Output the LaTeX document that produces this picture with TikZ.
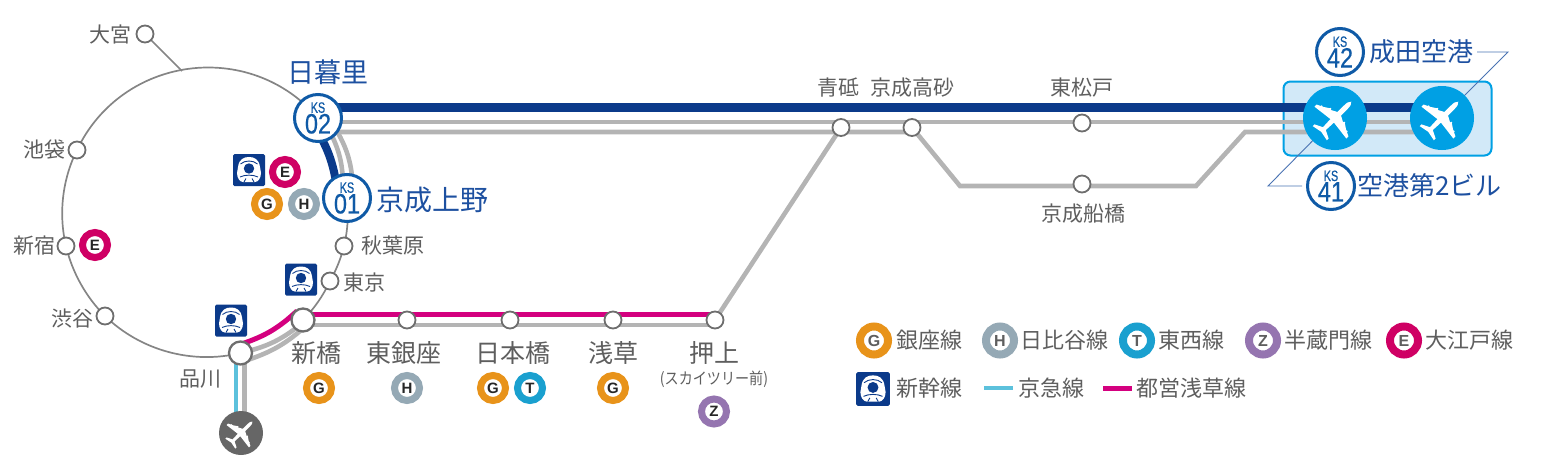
\documentclass[tikz,border=0pt]{standalone}
\usepackage{fontspec}
\usetikzlibrary{backgrounds}
\newfontfamily\jp{Noto Sans CJK JP}
\newfontfamily\jpnarrow[FakeStretch=0.88]{Noto Sans CJK JP}
\newfontfamily\ksfont[FakeStretch=0.72,FakeBold=0.5]{Liberation Sans}
\newfontfamily\ksdigit[FakeStretch=0.84,FakeBold=0.5]{Liberation Sans}
\newfontfamily\badgefont{Liberation Sans}
\newcommand{\fs}[1]{\fontsize{#1}{#1}\selectfont}
\newcommand{\ksnum}[1]{\ksfont\fs{15}KS\\\ksdigit\fontsize{28}{23.5}\selectfont #1}
\definecolor{navyline}{HTML}{0B3A8A}
\definecolor{ksblue}{HTML}{0F5AA6}
\definecolor{nameblue}{HTML}{1D50A0}
\definecolor{grayline}{HTML}{B4B4B4}
\definecolor{ringgray}{HTML}{858585}
\definecolor{stgray}{HTML}{6E6E6E}
\definecolor{textgray}{HTML}{5E5E5E}
\definecolor{pinkline}{HTML}{D4007F}
\definecolor{cyanline}{HTML}{5CC1DC}
\definecolor{skyblue}{HTML}{00A0E4}
\definecolor{skypale}{HTML}{D2E9F8}
\definecolor{planegray}{HTML}{666666}
\definecolor{ginza}{HTML}{E8931A}
\definecolor{hibiya}{HTML}{95A9B5}
\definecolor{tozai}{HTML}{1AA0CF}
\definecolor{hanzo}{HTML}{9575B0}
\definecolor{oedo}{HTML}{CF0064}
\tikzset{
  station/.style={shape=circle,draw=stgray,fill=white,line width=1.8pt,minimum size=17pt,inner sep=0pt},
  hubstation/.style={station,line width=2.3pt,minimum size=23pt},
  stname/.style={font=\jp\fs{21},text=textgray,inner sep=0pt},
  midname/.style={font=\jp\fs{25},text=textgray,inner sep=0pt},
  bigname/.style={font=\jp\fs{#1},text=nameblue,inner sep=0pt},
  legname/.style={font=\jp\fs{22},text=textgray,inner sep=0pt,anchor=west},
  ksmark/.style={shape=circle,draw=ksblue,fill=white,line width=3pt,minimum size=47pt,inner sep=0pt,text=ksblue,align=center},
  badge/.style={shape=circle,draw=#1,fill=white,line width=7pt,minimum size=25pt,inner sep=0pt,font=\badgefont\bfseries\fs{15},text=black!85},
  legbadge/.style={shape=circle,draw=#1,fill=white,line width=8pt,minimum size=28pt,inner sep=0pt,font=\badgefont\bfseries\fs{16},text=textgray},
  airport/.style={shape=circle,fill=skyblue,minimum size=64pt,inner sep=0pt},
  ringline/.style={draw=ringgray,line width=1.7pt},
  mainline/.style={draw=navyline,line width=9pt},
  sideline/.style={draw=grayline,line width=4.6pt,line join=miter},
  pink/.style={draw=pinkline,line width=5pt},
  cyan/.style={draw=cyanline,line width=4.6pt},
  leader/.style={draw=nameblue!80,line width=0.9pt},
  plane/.pic={
    \fill[white] (23,0) .. controls (22,-1.8) and (19,-2.6) .. (15,-2.5) -- (6,-2.5) -- (2.5,-9) -- (4,-9) -- (4,-10.5) -- (3.3,-10.5) -- (-1,-17) -- (-0.5,-17) -- (-0.5,-18.5) -- (-1.5,-18.5) -- (-3.5,-22.5) -- (-6.5,-22.5) -- (-4,-2.5) -- (-15,-2) -- (-19,-10) -- (-21.5,-10) -- (-19.5,0) -- (-21.5,10) -- (-19,10) -- (-15,2) -- (-4,2.5) -- (-6.5,22.5) -- (-3.5,22.5) -- (-1.5,18.5) -- (-0.5,18.5) -- (-0.5,17) -- (-1,17) -- (3.3,10.5) -- (4,10.5) -- (4,9) -- (2.5,9) -- (6,2.5) -- (15,2.5) .. controls (19,2.6) and (22,1.8) .. (23,0) -- cycle;
  },
  trainmark/.pic={
    \fill[navyline,rounded corners=1.5pt] (-16,-16) rectangle (16,16);
    \fill[white] (-11,-3) .. controls (-10,-11) and (-5,-13) .. (0,-13) .. controls (5,-13) and (10,-11) .. (11,-3) -- (12,3) .. controls (12,8) and (9,12) .. (6,12) -- (-6,12) .. controls (-9,12) and (-12,8) .. (-12,3) -- cycle;
    \draw[navyline,line width=0.9pt] (-8.5,-6) .. controls (-4,-10) and (4,-10) .. (8.5,-6);
    \draw[navyline,line width=0.9pt] (-9,7) .. controls (-4,4.5) and (4,4.5) .. (9,7);
    \draw[navyline,line width=0.9pt] (-5,12) -- (-3,8.5) (5,12) -- (3,8.5);
    \fill[navyline] (0,-1.5) circle (5.2);
  },
}
\begin{document}
\begin{tikzpicture}[x=1pt,y=-1pt]
\useasboundingbox (0,0) rectangle (1542,472);

\node[station,label={[stname,label distance=4pt]left:大宮}] (omiya) at (145,34) {};
\node[station,label={[stname,label distance=2pt]left:池袋}] (ikebukuro) at (77,150) {};
\node[station,label={[stname,label distance=1pt]left:新宿}] (shinjuku) at (66,246) {};
\node[station,label={[stname,label distance=2pt,yshift=-3pt]left:渋谷}] (shibuya) at (105,316) {};
\node[station,label={[stname,label distance=8pt]right:秋葉原}] (akihabara) at (344,246) {};
\node[station,label={[stname,label distance=4pt,yshift=-2pt]right:東京}] (tokyo) at (330,281) {};
\coordinate (omiyajct) at (182,71);

\node[hubstation] (shinagawa) at (240.5,353) {};
\node[hubstation] (shimbashi) at (303,320) {};
\node[station] (higashiginza) at (407,320) {};
\node[station] (nihombashi) at (510,320) {};
\node[station] (asakusa) at (613,320) {};
\node[station] (oshiage) at (715,320) {};
\node[station] (aoto) at (841,127.5) {};
\node[station] (takasago) at (912,127.5) {};
\node[station] (matsudo) at (1082,123) {};
\node[station] (funabashi) at (1082,184) {};
\node[stname] (shinagawaname) at (200.5,379) {品川};
\node[midname] (shimbashiname) at (316,353) {新橋};
\node[midname] (higashiginzaname) at (404,353) {東銀座};
\node[midname] (nihombashiname) at (513,353) {日本橋};
\node[midname] (asakusaname) at (613,353) {浅草};
\node[midname] (oshiagename) at (714,353) {押上};
\node[font=\jpnarrow\fs{16},text=textgray,inner sep=0pt] (skytreename) at (714,379) {(スカイツリー前)};
\node[stname] (aotoname) at (838,87.5) {青砥};
\node[stname] (takasagoname) at (912,87.5) {京成高砂};
\node[stname] (matsudoname) at (1082,87.5) {東松戸};
\node[stname] (funabashiname) at (1083,214) {京成船橋};

\node[ksmark] (nippori) at (318,118) {\ksnum{02}};
\node[ksmark] (ueno) at (347,198) {\ksnum{01}};
\node[ksmark] (ksnarita) at (1340,52) {\ksnum{42}};
\node[ksmark] (ksbiru) at (1331,186) {\ksnum{41}};
\node[bigname=27] (nipporiname) at (328,72) {日暮里};
\node[bigname=28,anchor=west] (uenoname) at (376,200) {京成上野};
\node[bigname=26,anchor=west] (naritaname) at (1369,52) {成田空港};
\node[bigname=26,anchor=west] (biruname) at (1357,186) {空港第2ビル};

\node[airport] (terminal2) at (1335,118) {};
\node[airport] (terminal1) at (1442,118) {};
\node[shape=circle,fill=planegray,minimum size=44pt,inner sep=0pt] (haneda) at (241,433) {};
\pic[rotate=45] at (terminal2) {plane};
\pic[rotate=45] at (terminal1) {plane};
\pic[rotate=45,scale=0.7] at (haneda) {plane};

\coordinate (lowbendA) at (960,186);
\coordinate (lowbendB) at (1196,186);
\coordinate (lowbendC) at (1245,132);
\coordinate (naritastart) at (1477,52);
\coordinate (naritacorner) at (1508,52);
\coordinate (birustart) at (1302,186);
\coordinate (birucorner) at (1268,186);

\begin{scope}[on background layer]
  \node[shape=rectangle,rounded corners=7pt,draw=skyblue,fill=skypale,line width=2pt,minimum width=208pt,minimum height=74pt,inner sep=0pt] (airportbox) at (1387.5,118.5) {};
  \path[ringline] (nippori.center) to[bend right=57,looseness=1.1] (ikebukuro.center);
  \path[ringline] (ikebukuro.center) to[bend right=20,looseness=0.87] (shinjuku.center);
  \path[ringline] (shinjuku.center) to[bend right=16,looseness=0.86] (shibuya.center);
  \path[ringline] (shibuya.center) to[bend right=29,looseness=0.9] (shinagawa.center);
  \path[ringline] (ueno.center) to[bend left=10,looseness=0.85] (akihabara.center);
  \path[ringline] (akihabara.center) to[bend left=8,looseness=0.85] (tokyo.center);
  \path[ringline] (tokyo.center) to[bend left=10,looseness=0.85] (shimbashi.center);
  \path[ringline] (omiya.center) -- (omiyajct);

  \path[mainline] ([shift={(0,-11)}]nippori.center) -- ([shift={(0,-11)}]terminal1.center);
  \path[sideline] ([shift={(0,4)}]nippori.center) -- ([shift={(0,4)}]terminal1.center);
  \path[sideline] ([shift={(0,14)}]nippori.center) -- ([shift={(0,4.5)}]takasago.center) -- (takasago.center) -- (lowbendA) -- (lowbendB) -- (lowbendC) -- ([shift={(0,14)}]terminal1.center);
  \path[mainline,line width=8pt] ([shift={(-5,6)}]nippori.center) to[bend left=12] ([shift={(-10,-10)}]ueno.center);
  \path[sideline] ([shift={(10,10)}]nippori.center) to[bend left=14] ([shift={(-4,-10)}]ueno.center);
  \path[sideline] ([shift={(16,8)}]nippori.center) to[bend left=14] ([shift={(6,-10)}]ueno.center);

  \path[pink] ([shift={(1,-9)}]shinagawa.center) to[bend right=12] ([shift={(-6,-9)}]shimbashi.center);
  \path[sideline] ([shift={(4,-1)}]shinagawa.center) to[bend right=12] ([shift={(-3,5)}]shimbashi.center);
  \path[sideline] ([shift={(4,8)}]shinagawa.center) to[bend right=12] ([shift={(4,5)}]shimbashi.center);
  \path[pink] ([shift={(0,-6)}]shimbashi.center) -- ([shift={(0,-6)}]oshiage.center);
  \path[sideline] ([shift={(0,5)}]shimbashi.center) -- ([shift={(0,5)}]oshiage.center);
  \path[sideline] (oshiage.center) -- (aoto.center);
  \path[cyan] ([shift={(-4.5,0)}]shinagawa.center) -- ([shift={(-5,0)}]haneda.center);
  \path[sideline] ([shift={(4,0)}]shinagawa.center) -- ([shift={(3.5,0)}]haneda.center);

  \path[leader] (naritastart) -- (naritacorner) -- (terminal1.center);
  \path[leader] (birustart) -- (birucorner) -- (terminal2.center);
\end{scope}

\pic at (249,170) {trainmark};
\pic at (301,279.5) {trainmark};
\pic at (231,320.5) {trainmark};
\node[badge=oedo] (uenoE) at (285,172) {E};
\node[badge=ginza] (uenoG) at (267,204) {G};
\node[badge=hibiya] (uenoH) at (304,204) {H};
\node[badge=oedo] (shinjukuE) at (95,245) {E};
\node[badge=ginza] (shimbashiG) at (319,388) {G};
\node[badge=hibiya] (higashiginzaH) at (407,388) {H};
\node[badge=ginza] (nihombashiG) at (493,388) {G};
\node[badge=tozai] (nihombashiT) at (530,388) {T};
\node[badge=ginza] (asakusaG) at (613,388) {G};
\node[badge=hanzo] (oshiageZ) at (714,411.5) {Z};

\node[legbadge=ginza] (legG) at (874,340.5) {G};
\node[legname] (legGname) at (896,340) {銀座線};
\node[legbadge=hibiya] (legH) at (1000,340.5) {H};
\node[legname] (legHname) at (1020,340) {日比谷線};
\node[legbadge=tozai] (legT) at (1137,340.5) {T};
\node[legname] (legTname) at (1158,340) {東西線};
\node[legbadge=hanzo] (legZ) at (1263,340.5) {Z};
\node[legname] (legZname) at (1284,340) {半蔵門線};
\node[legbadge=oedo] (legE) at (1404,340.5) {E};
\node[legname] (legEname) at (1425,340) {大江戸線};
\pic[scale=1.05] at (873,389) {trainmark};
\node[legname] (legSname) at (896,388) {新幹線};
\coordinate (legCa) at (984,388);
\coordinate (legCb) at (1013,388);
\path[cyan] (legCa) -- (legCb);
\node[legname] (legCname) at (1018,388) {京急線};
\coordinate (legPa) at (1103,388);
\coordinate (legPb) at (1132,388);
\path[pink] (legPa) -- (legPb);
\node[legname] (legPname) at (1136,388) {都営浅草線};
\end{tikzpicture}
\end{document}
